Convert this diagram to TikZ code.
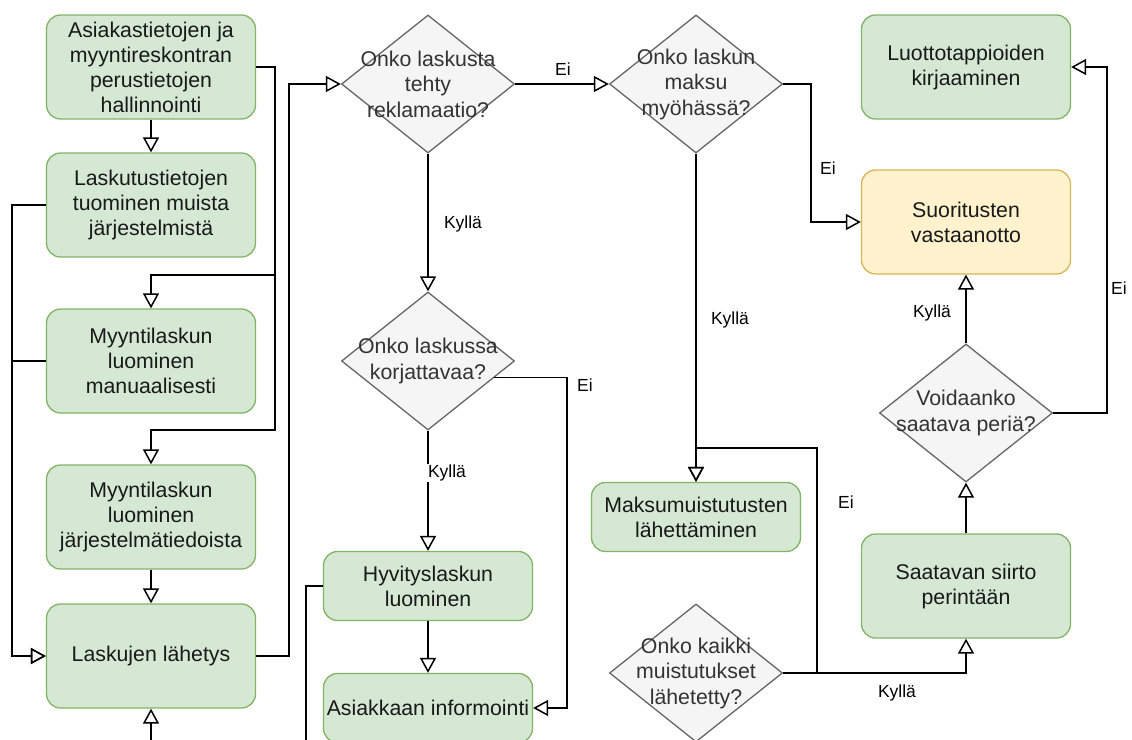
\documentclass[tikz,border=0pt]{standalone}
\usepackage{fontspec}
\setmainfont{Liberation Sans}
\usetikzlibrary{shapes.geometric,arrows.meta,calc}
\definecolor{boxfill}{HTML}{D5E8D4}
\definecolor{boxline}{HTML}{82B366}
\definecolor{endfill}{HTML}{FFF2CC}
\definecolor{endline}{HTML}{D6B656}
\definecolor{askfill}{HTML}{F5F5F5}
\definecolor{askline}{HTML}{666666}
\definecolor{askink}{HTML}{333333}

\begin{document}
\begin{tikzpicture}[x=1pt, y=-1pt,
stepnode/.style={rectangle, rounded corners=14pt, draw=boxline, fill=boxfill, line width=1.3pt, inner sep=2pt, minimum width=209pt, minimum height=104pt, align=center, text=black!90, font=\fontsize{21.3pt}{25pt}\selectfont},
shortnode/.style={stepnode, minimum height=69pt},
endnode/.style={stepnode, draw=endline, fill=endfill},
decision/.style={diamond, draw=askline, fill=askfill, line width=1.3pt, inner sep=0pt, minimum width=173pt, minimum height=138pt},
asktext/.style={align=center, inner sep=0pt, text=askink, font=\fontsize{21.3pt}{25.5pt}\selectfont},
edgelabel/.style={inner sep=1pt, font=\fontsize{17.5pt}{20pt}\selectfont},
flow/.style={draw, line width=1.5pt, -{Triangle[open, length=15pt, width=16pt]}}]
    \useasboundingbox (0,0) rectangle (1132,739);
    \node[stepnode] (b1) at (151,67) {Asiakastietojen ja\\myyntireskontran\\perustietojen\\hallinnointi};
    \node[stepnode] (b2) at (151,205) {Laskutustietojen\\tuominen muista\\järjestelmistä};
    \node[stepnode] (b3) at (151,361) {Myyntilaskun\\luominen\\manuaalisesti};
    \node[stepnode] (b4) at (151,517) {Myyntilaskun\\luominen\\järjestelmätiedoista};
    \node[stepnode] (b5) at (151,656) {Laskujen lähetys};
    \node[decision] (d1) at (428,84) {};
    \node[asktext] (d1t) at (d1) {Onko laskusta\\tehty\\reklamaatio?};
    \node[decision] (d3) at (428,361) {};
    \node[asktext] (d3t) at (d3) {Onko laskussa\\korjattavaa?};
    \node[shortnode] (h1) at (428,586) {Hyvityslaskun\\luominen};
    \node[shortnode] (a1) at (428,708) {Asiakkaan informointi};
    \node[decision] (d2) at (696,84) {};
    \node[asktext] (d2t) at (d2) {Onko laskun\\maksu\\myöhässä?};
    \node[shortnode] (m1) at (696,517) {Maksumuistutusten\\lähettäminen};
    \node[decision] (d4) at (696,673) {};
    \node[asktext] (d4t) at (d4) {Onko kaikki\\muistutukset\\lähetetty?};
    \node[stepnode] (l1) at (966,67) {Luottotappioiden\\kirjaaminen};
    \node[endnode] (s1) at (966,222) {Suoritusten\\vastaanotto};
    \node[decision] (v1) at (966,413) {};
    \node[asktext] (v1t) at (v1) {Voidaanko\\saatava periä?};
    \node[stepnode] (p1) at (966,586) {Saatavan siirto\\perintään};

    \draw[flow] (b1) -- (b2);
    \draw[flow] (b1.east) -| (275,275) -| (b3.north);
    \draw[flow] (b1.east) -| (275,430) -| (b4.north);
    \draw[flow] (b2.west) -| (12,656) -- (b5.west);
    \draw[flow] (b3.west) -| (12,656) -- (b5.west);
    \draw[flow] (b4) -- (b5);
    \draw[flow] (b5.east) -- ++(33,0) |- (d1.west);
    \draw[flow] (d1.east) -- (d2.west);
    \draw[flow] (d1.south) -- (d3.north);
    \draw[flow] (d3.-14) -| ($(a1.east)+(34,0)$) -- (a1.east);
    \draw[flow] (d3.south) -- (h1.north);
    \draw[flow] (h1) -- (a1);
    \draw[flow] (h1.west) -- ++(-17,0) -- ++(0,180) -| (b5.south);
    \draw[flow] (d2.east) -- ++(28,0) |- (s1.west);
    \draw[flow] (d2.south) -- (m1.north);
    \draw[flow] (d4.east) -| (817,448) -| (m1.north);
    \draw[flow] (d4.east) -| (p1.south);
    \draw[flow] (p1) -- (v1);
    \draw[flow] (v1) -- (s1);
    \draw[flow] (v1.east) -- ++(54,0) |- (l1.east);

    \node[edgelabel] (ei1) at (563,69) {Ei};
    \node[edgelabel] (kyl1) at (463,224) {Kyllä};
    \node[edgelabel] (ei2) at (585,385) {Ei};
    \node[edgelabel, fill=white] (kyl2) at (447,473) {Kyllä};
    \node[edgelabel] (ei3) at (828,168) {Ei};
    \node[edgelabel] (kyl3) at (730,320) {Kyllä};
    \node[edgelabel] (ei4) at (846,502) {Ei};
    \node[edgelabel] (kyl4) at (897,693) {Kyllä};
    \node[edgelabel] (kyl5) at (932,313) {Kyllä};
    \node[edgelabel] (ei5) at (1119,288) {Ei};
\end{tikzpicture}
\end{document}
